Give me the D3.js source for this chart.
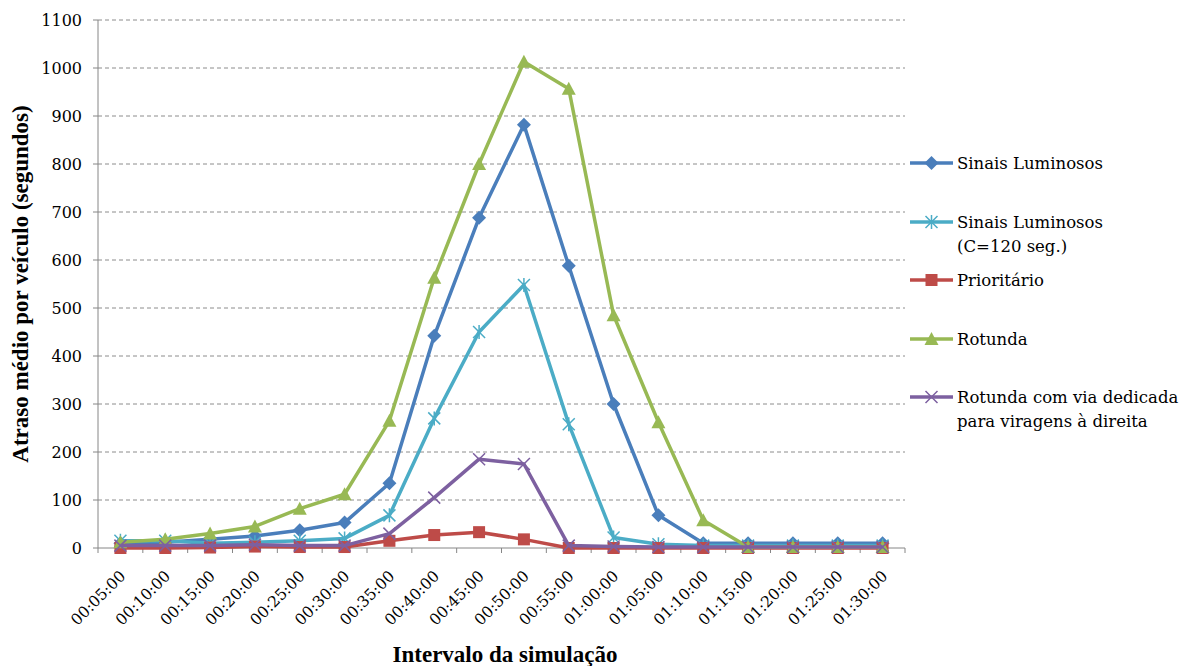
<!DOCTYPE html>
<html><head><meta charset="utf-8">
<script src="https://cdn.jsdelivr.net/npm/d3@7"></script>
</head><body style="margin:0"><svg id="c" width="1181" height="666"></svg>
<script>
const categories = ["00:05:00","00:10:00","00:15:00","00:20:00","00:25:00","00:30:00","00:35:00","00:40:00","00:45:00","00:50:00","00:55:00","01:00:00","01:05:00","01:10:00","01:15:00","01:20:00","01:25:00","01:30:00"];
const sinais = [10,12,18,25,37,53,135,442,688,882,588,300,68,10,10,10,10,10];
const sinais120 = [15,15,10,12,15,20,68,270,450,548,258,22,8,5,5,5,5,5];
const prioritario = [0,0,1,3,2,2,15,27,33,18,0,0,0,0,0,0,0,0];
const rotunda = [12,18,30,45,82,112,265,563,800,1013,957,485,262,58,2,2,2,2];
const rotundaVia = [5,5,5,7,5,5,30,105,185,175,5,3,2,2,2,2,2,2];
const yTicks = [0,100,200,300,400,500,600,700,800,900,1000,1100];

const series = [
  {name:["Sinais Luminosos"], values:sinais, color:"#4A7EBB", marker:"diamond"},
  {name:["Sinais Luminosos","(C=120 seg.)"], values:sinais120, color:"#4BACC6", marker:"star"},
  {name:["Prioritário"], values:prioritario, color:"#BE4B48", marker:"square"},
  {name:["Rotunda"], values:rotunda, color:"#98B954", marker:"triangle"},
  {name:["Rotunda com via dedicada","para viragens à direita"], values:rotundaVia, color:"#7D60A0", marker:"x"}
];

const svg = d3.select("#c");
const L=98, R=905, T=20, B=548;
const x = d3.scaleBand().domain(categories).range([L,R]);
const y = d3.scaleLinear().domain([0,1100]).range([B,T]);
const font = "DejaVu Serif";
const boldFont = "Liberation Serif";

// grid
svg.append("g").selectAll("line").data(yTicks.filter(d=>d>0)).join("line")
  .attr("x1",L).attr("x2",R).attr("y1",d=>y(d)).attr("y2",d=>y(d))
  .attr("stroke","#8c8c8c").attr("stroke-width",1).attr("stroke-dasharray","4,3");

// y axis
const ya = svg.append("g");
ya.append("line").attr("x1",L).attr("x2",L).attr("y1",T).attr("y2",B).attr("stroke","#868686");
ya.selectAll("line.t").data(yTicks).join("line").attr("class","t")
  .attr("x1",L-5).attr("x2",L).attr("y1",d=>y(d)).attr("y2",d=>y(d)).attr("stroke","#868686");
ya.selectAll("text").data(yTicks).join("text")
  .attr("x",L-16).attr("y",d=>y(d)).attr("dy","0.35em").attr("text-anchor","end")
  .attr("font-family",font).attr("font-size",16).attr("fill","#000").text(d=>d);

// x axis
const xa = svg.append("g");
xa.append("line").attr("x1",L).attr("x2",R).attr("y1",B).attr("y2",B).attr("stroke","#868686");
xa.selectAll("line.t").data(d3.range(categories.length+1)).join("line").attr("class","t")
  .attr("x1",i=>L+i*x.step()).attr("x2",i=>L+i*x.step()).attr("y1",B).attr("y2",B+5)
  .attr("stroke","#868686");
xa.selectAll("text").data(categories).join("text")
  .attr("transform",d=>`translate(${x(d)+x.bandwidth()/2+6},${B+29}) rotate(-45)`)
  .attr("text-anchor","end")
  .attr("font-family",font).attr("font-size",15.5).attr("fill","#000").text(d=>d);

// lines
const line = d3.line().x((d,i)=>x(categories[i])+x.bandwidth()/2).y(d=>y(d));
function drawMarker(g, type, color, cx, cy){
  if(type==="diamond"){
    g.append("path").attr("d",`M${cx},${cy-7}L${cx+7},${cy}L${cx},${cy+7}L${cx-7},${cy}Z`).attr("fill",color);
  } else if(type==="square"){
    g.append("rect").attr("x",cx-6).attr("y",cy-6).attr("width",12).attr("height",12).attr("fill",color);
  } else if(type==="triangle"){
    g.append("path").attr("d",`M${cx},${cy-7}L${cx+7},${cy+6}L${cx-7},${cy+6}Z`).attr("fill",color);
  } else if(type==="star"){
    const s=6;
    g.append("path").attr("d",`M${cx-s},${cy-s}L${cx+s},${cy+s}M${cx-s},${cy+s}L${cx+s},${cy-s}M${cx},${cy-s-1}L${cx},${cy+s+1}`).attr("stroke",color).attr("stroke-width",1.5).attr("fill","none");
  } else if(type==="x"){
    const s=6;
    g.append("path").attr("d",`M${cx-s},${cy-s}L${cx+s},${cy+s}M${cx-s},${cy+s}L${cx+s},${cy-s}`).attr("stroke",color).attr("stroke-width",1.5).attr("fill","none");
  }
}
series.forEach(s=>{
  const g = svg.append("g");
  g.append("path").attr("d",line(s.values)).attr("fill","none").attr("stroke",s.color).attr("stroke-width",3.5).attr("stroke-linejoin","round");
  s.values.forEach((v,i)=>drawMarker(g,s.marker,s.color,x(categories[i])+x.bandwidth()/2,y(v)));
});

// legend
const legY = [163,222,280,339,397];
series.forEach((s,i)=>{
  const g = svg.append("g");
  const yy = legY[i];
  g.append("line").attr("x1",910).attr("x2",953).attr("y1",yy).attr("y2",yy).attr("stroke",s.color).attr("stroke-width",3.5);
  drawMarker(g,s.marker,s.color,931.5,yy);
  s.name.forEach((t,j)=>{
    g.append("text").attr("x",957).attr("y",yy+j*24).attr("dy","0.35em")
      .attr("font-family",font).attr("font-size",16.5).attr("fill","#000").text(t);
  });
});

// titles
svg.append("text").attr("transform","translate(28,284) rotate(-90)").attr("text-anchor","middle")
  .attr("font-family",boldFont).attr("font-size",23).attr("font-weight","bold").text("Atraso médio por veículo (segundos)");
svg.append("text").attr("x",505).attr("y",662).attr("text-anchor","middle")
  .attr("font-family",boldFont).attr("font-size",23).attr("font-weight","bold").text("Intervalo da simulação");
</script></body></html>
